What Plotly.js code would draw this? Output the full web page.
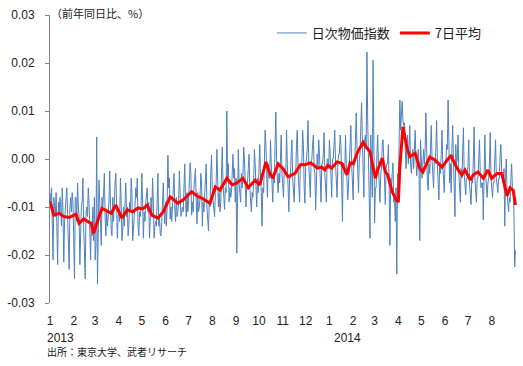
<!DOCTYPE html>
<html><head><meta charset="utf-8">
<script src="https://cdn.plot.ly/plotly-3.0.1.min.js"></script>
<style>html,body{margin:0;padding:0;background:#fff;}#chart{width:523px;height:366px;}</style>
</head><body><div id="chart"></div>
<script>
// Daily index (year-on-year, %), one value per day from 2013-01-01
var startDate = '2013-01-01';
var dailyValues = [
-0.007,-0.009,-0.006,-0.013,-0.021,-0.008,-0.010,
-0.012,-0.007,-0.015,-0.022,-0.009,-0.011,-0.008,
-0.010,-0.014,-0.006,-0.011,-0.0215,-0.013,-0.009,
-0.008,-0.006,-0.012,-0.017,-0.023,-0.010,-0.008,
-0.011,-0.007,-0.009,-0.016,-0.025,-0.008,-0.008,
-0.013,-0.005,-0.010,-0.012,-0.022,-0.015,-0.010,
-0.009,-0.004,-0.014,-0.018,-0.025,-0.011,-0.010,
-0.012,-0.006,-0.009,-0.017,-0.021,-0.013,-0.016,
-0.010,-0.017,-0.008,-0.021,-0.018,0.0046,-0.026,
-0.012,-0.0044,-0.009,-0.015,-0.018,-0.008,-0.010,
-0.007,-0.003,-0.012,-0.016,-0.011,-0.014,-0.012,
-0.009,-0.0025,-0.010,-0.015,-0.016,-0.008,-0.013,
-0.006,-0.005,-0.003,-0.014,-0.0165,-0.012,-0.011,
-0.013,-0.004,-0.009,-0.017,-0.015,-0.010,-0.014,
-0.008,-0.005,-0.012,-0.010,-0.016,-0.014,-0.009,
-0.011,-0.004,-0.007,-0.017,-0.013,-0.012,-0.010,
-0.006,-0.008,-0.004,-0.014,-0.016,-0.011,-0.012,
-0.010,-0.003,-0.009,-0.0165,-0.011,-0.013,-0.009,
-0.007,-0.006,-0.011,-0.009,-0.0165,-0.012,-0.008,
-0.012,-0.004,-0.009,-0.0165,-0.014,-0.013,-0.014,
-0.010,-0.003,-0.014,-0.012,-0.0155,-0.016,-0.013,
-0.008,-0.005,-0.011,-0.0135,-0.009,-0.014,-0.010,
0.0008,-0.006,-0.004,-0.0125,-0.010,-0.013,-0.009,
-0.005,-0.003,-0.010,-0.013,-0.008,-0.012,-0.011,
-0.009,-0.0025,-0.006,-0.012,-0.011,-0.010,-0.011,
-0.004,-0.001,-0.008,-0.012,-0.007,-0.011,-0.009,
-0.006,-0.0008,-0.003,-0.0117,-0.009,-0.011,-0.006,
-0.004,-0.002,-0.009,-0.0135,-0.007,-0.011,-0.010,
-0.008,-0.003,-0.005,-0.014,-0.009,-0.011,-0.007,
-0.006,-0.001,-0.010,-0.012,-0.015,-0.009,-0.010,
-0.003,0.0008,-0.007,-0.009,-0.011,-0.012,-0.007,
-0.005,0.002,-0.002,-0.010,-0.007,-0.011,-0.009,
-0.001,0.0025,-0.005,-0.008,-0.0105,-0.006,-0.007,
0.010,-0.004,-0.001,-0.009,-0.006,-0.008,-0.007,
-0.003,0.001,-0.004,-0.002,-0.009,-0.004,-0.0196,
-0.001,0.002,-0.005,-0.007,-0.009,-0.003,-0.006,
-0.004,0.0025,0.000,-0.008,-0.010,-0.005,-0.005,
-0.002,0.001,-0.006,-0.009,-0.011,-0.007,-0.008,
-0.005,0.002,-0.001,-0.008,-0.010,-0.004,-0.007,
-0.002,0.003,-0.004,-0.007,-0.014,-0.006,-0.007,
0.002,0.006,0.003,-0.004,-0.008,-0.001,-0.004,
-0.004,0.004,-0.001,-0.008,-0.009,-0.003,-0.005,
0.003,0.0098,-0.001,-0.005,-0.007,-0.003,-0.005,
0.000,0.005,-0.003,-0.006,-0.008,-0.002,-0.003,
-0.003,0.006,-0.001,-0.008,-0.011,-0.004,-0.004,
0.001,0.004,-0.004,-0.007,-0.009,-0.003,-0.003,
0.003,0.006,-0.002,-0.006,-0.009,-0.001,-0.001,
-0.001,0.006,0.003,-0.006,-0.0092,-0.001,0.000,
0.002,0.008,-0.001,-0.006,-0.008,-0.001,0.000,
0.003,0.005,-0.002,-0.003,-0.0106,-0.004,0.001,
-0.002,0.004,0.001,-0.006,-0.009,-0.001,-0.001,
0.001,0.0055,-0.003,-0.007,-0.009,0.000,0.000,
-0.002,0.004,0.001,-0.007,-0.008,0.000,0.000,
0.003,0.006,-0.001,-0.005,-0.008,-0.001,0.001,
0.001,0.005,0.003,-0.004,-0.013,-0.001,-0.001,
-0.003,0.005,-0.001,-0.007,-0.0085,-0.005,-0.001,
0.002,0.007,-0.001,-0.005,-0.0085,0.000,-0.001,
0.004,0.0096,0.002,-0.003,-0.007,0.000,0.001,
0.007,0.0117,0.004,-0.001,-0.008,0.004,0.005,
0.002,0.0223,0.008,-0.002,-0.004,-0.0165,0.005,
-0.001,-0.008,0.0206,-0.006,-0.0133,-0.006,-0.006,
0.001,0.005,-0.001,-0.005,-0.009,-0.003,-0.002,
0.003,0.004,0.000,-0.005,-0.0095,-0.002,-0.001,
-0.001,0.003,-0.006,-0.018,-0.004,-0.006,-0.003,
-0.0008,-0.009,-0.008,-0.013,-0.006,-0.024,-0.003,
-0.006,0.004,0.0123,0.006,0.010,0.012,0.008,
0.007,0.0075,0.000,-0.002,0.002,0.005,-0.001,
0.004,0.007,-0.001,-0.003,0.000,0.002,-0.002,
0.003,0.006,0.000,-0.0035,-0.001,0.002,-0.001,
-0.017,0.004,0.001,-0.004,-0.001,0.002,-0.001,
0.002,0.0096,0.000,-0.005,-0.0065,-0.001,-0.003,
0.003,0.007,0.000,-0.004,-0.006,0.000,-0.001,
0.002,0.008,-0.001,-0.006,-0.0085,-0.001,-0.003,
0.001,0.006,-0.001,-0.006,-0.007,-0.001,-0.001,
0.003,0.002,0.0123,-0.003,-0.005,-0.001,-0.007,
0.002,0.007,0.000,-0.004,-0.012,0.003,-0.001,
0.000,0.005,-0.003,-0.007,-0.009,-0.002,-0.004,
0.001,0.0065,-0.003,-0.007,-0.0075,-0.004,-0.004,
-0.001,0.004,-0.005,-0.008,-0.0095,-0.004,-0.005,
0.000,0.0067,-0.004,-0.008,-0.009,-0.004,-0.004,
0.000,0.004,-0.003,-0.006,-0.005,-0.005,-0.0127,
0.000,0.005,-0.003,-0.006,-0.008,-0.005,-0.004,
-0.001,0.0055,-0.004,-0.007,-0.008,-0.005,-0.005,
0.000,0.004,-0.004,-0.006,-0.007,-0.004,-0.004,
0.001,0.003,-0.003,-0.004,-0.005,-0.002,-0.014,
-0.004,0.000,-0.007,-0.010,-0.011,-0.008,-0.009,
-0.004,-0.001,-0.006,-0.007,-0.011,-0.0225,-0.019
];

// 7-day average: day offset from startDate and value
var avgDay = [0,5,12,18,25,34,38,44,54,57,64,68,80,86,94,101,108,115,121,127,133,141,148,157,167,174,185,193,199,209,216,222,231,238,244,252,259,268,274,282,287,291,298,304,311,320,327,333,340,344,349,355,359,363,368,375,381,388,392,396,402,409,414,418,425,428,434,438,441,447,451,455,457,461,466,470,477,483,487,496,503,512,519,524,526,533,538,542,549,553,559,566,572,577,584,590,597,601,605,608];
var avgVal = [-0.0089,-0.0117,-0.0113,-0.0120,-0.0122,-0.0115,-0.0134,-0.0125,-0.0135,-0.0155,-0.0120,-0.0103,-0.0113,-0.0096,-0.0123,-0.0106,-0.0110,-0.0102,-0.0104,-0.0096,-0.0117,-0.0123,-0.0110,-0.0079,-0.0092,-0.0085,-0.0068,-0.0078,-0.0082,-0.0092,-0.0058,-0.0065,-0.0040,-0.0054,-0.0050,-0.0040,-0.0060,-0.0044,-0.0054,-0.0006,-0.0030,-0.0040,-0.0010,-0.0019,-0.0037,-0.0030,-0.0012,-0.0012,-0.0008,-0.0012,-0.0019,-0.0017,-0.0023,-0.0013,-0.0019,-0.0006,-0.0009,-0.0033,-0.0008,-0.0010,0.0015,0.0035,0.0023,0.0015,-0.0040,-0.0023,0.0002,-0.0027,-0.0033,-0.0068,-0.0081,-0.0090,-0.0016,0.0067,0.0025,0.0005,0.0012,-0.0020,-0.0027,0.0004,-0.0002,-0.0017,-0.0002,0.0008,-0.0001,-0.0023,-0.0033,-0.0023,-0.0044,-0.0033,-0.0027,-0.0040,-0.0023,-0.0040,-0.0030,-0.0030,-0.0077,-0.0060,-0.0065,-0.0096];

// axis ticks and labels
var monthTicks = ['2013-01-01','2013-02-01','2013-03-01','2013-04-01','2013-05-01','2013-06-01','2013-07-01','2013-08-01','2013-09-01','2013-10-01','2013-11-01','2013-12-01','2014-01-01','2014-02-01','2014-03-01','2014-04-01','2014-05-01','2014-06-01','2014-07-01','2014-08-01'];
var monthLabels = ['1','2','3','4','5','6','7','8','9','10','11','12','1','2','3','4','5','6','7','8'];
var yearLabels = ['2013','2014'];
var yearDates = ['2013-01-01','2014-01-01'];
var yTicks = [-0.03,-0.02,-0.01,0,0.01,0.02,0.03];
var yLabels = ['-0.03','-0.02','-0.01','0.00','0.01','0.02','0.03'];
var seriesNames = ['日次物価指数','7日平均'];

function dayToDate(n){
  var t = Date.UTC(2013,0,1) + n*86400000;
  return new Date(t).toISOString().slice(0,10);
}
var dailyDates = dailyValues.map(function(v,i){return dayToDate(i);});
var avgDates = avgDay.map(dayToDate);

var numFont = 'Liberation Sans, Arial, sans-serif';
var jpFont = 'Noto Sans CJK JP, sans-serif';
var xRange = ['2013-01-01','2014-09-03'];

var traces = [
  {x: dailyDates, y: dailyValues, type:'scatter', mode:'lines', name: seriesNames[0],
   line:{color:'#4F81BD', width:1}},
  {x: avgDates, y: avgVal, type:'scatter', mode:'lines', name: seriesNames[1],
   line:{color:'#FF0000', width:3}}
];

var annotations = [
  {xref:'paper', yref:'paper', x:0, y:1.007, xanchor:'left', yanchor:'middle', xshift:-1,
   text:'（前年同日比、%）', showarrow:false, font:{family:jpFont, size:11, color:'#222'}},
  {xref:'paper', yref:'paper', x:0, y:-0.170, xanchor:'left', yanchor:'middle', xshift:-5,
   text:'出所：東京大学、武者リサーチ', showarrow:false, font:{family:jpFont, size:10, color:'#222'}}
];
yearLabels.forEach(function(t,i){
  annotations.push({xref:'x', yref:'paper', x:yearDates[i], y:-0.122, xanchor:'left', yanchor:'middle',
    xshift: i===0 ? -5 : 3, text:t, showarrow:false, font:{family:numFont, size:12, color:'#222'}});
});

var layout = {
  width:523, height:366,
  margin:{l:50, r:6, t:15, b:63},
  paper_bgcolor:'#fff', plot_bgcolor:'#fff',
  showlegend:true,
  legend:{orientation:'h', x:0.475, y:0.9375, xanchor:'left', yanchor:'middle',
    bgcolor:'rgba(0,0,0,0)', font:{family:jpFont, size:13, color:'#222'}, itemwidth:30, tracegroupgap:0},
  xaxis:{type:'date', range:xRange, tickmode:'array', tickvals:monthTicks, ticktext:monthLabels,
    showgrid:false, zeroline:false, showline:false, ticks:'', ticklabelstandoff:9,
    tickfont:{family:numFont, size:12, color:'#222'}},
  xaxis2:{type:'date', range:xRange, overlaying:'x', anchor:'free', position:0.5, side:'bottom',
    tickmode:'array', tickvals:monthTicks, showticklabels:false, showgrid:false, zeroline:false,
    showline:true, linecolor:'#868686', linewidth:1, ticks:'outside', ticklen:3, tickcolor:'#868686'},
  yaxis:{range:[-0.03,0.03], tickmode:'array', tickvals:yTicks, ticktext:yLabels,
    showgrid:false, zeroline:false, showline:true, linecolor:'#868686', linewidth:1,
    ticks:'outside', ticklen:4, tickcolor:'#868686', ticklabelstandoff:8,
    tickfont:{family:numFont, size:12, color:'#222'}},
  annotations: annotations
};

Plotly.newPlot('chart', traces, layout, {displayModeBar:false, staticPlot:true});
</script></body></html>
